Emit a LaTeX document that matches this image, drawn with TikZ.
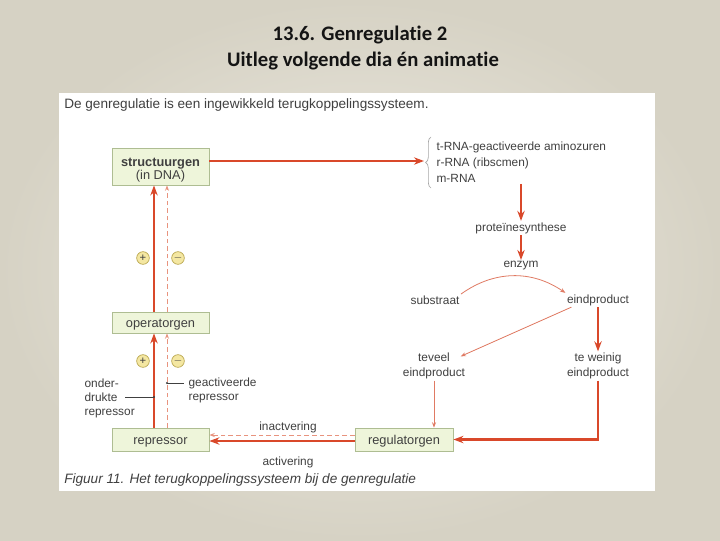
\documentclass[tikz,border=0pt]{standalone}
\usepackage{fontspec}
\setmainfont{Liberation Sans}
\newfontfamily\titlefont[Ligatures=NoCommon]{Carlito}
\usetikzlibrary{arrows.meta,calc,decorations.pathreplacing}
\definecolor{bgin}{HTML}{EEEBE3}
\definecolor{bgout}{HTML}{D6D2C4}
\definecolor{redthick}{HTML}{D9482A}
\definecolor{redthin}{HTML}{E07A63}
\definecolor{reddash}{HTML}{E8937E}
\definecolor{boxfill}{HTML}{EEF5DA}
\definecolor{boxline}{HTML}{AEBD92}
\definecolor{txt}{HTML}{404040}
\definecolor{signfill}{HTML}{F4E7A2}
\definecolor{signline}{HTML}{B9A64E}
\tikzset{
  gbox/.style={draw=boxline, fill=boxfill, line width=0.6pt, text=txt, font=\fontsize{9.6}{9.4}\selectfont, align=center, inner sep=0pt},
  onel/.style={text height=9pt, text depth=1.2pt},
  lbl/.style={text=txt, font=\fontsize{8.9}{11}\selectfont, inner sep=1pt},
  thickarr/.style={draw=redthick, line width=1.6pt, -{Stealth[length=7.5pt,width=5.5pt]}},
  thinarr/.style={draw=redthin, line width=0.6pt, -{Stealth[length=4pt,width=3pt]}},
  dasharr/.style={draw=reddash, line width=0.7pt, dash pattern=on 3.5pt off 2.2pt, -{Stealth[length=4pt,width=3pt]}},
  sign/.style={circle, draw=signline, fill=signfill, line width=0.5pt, minimum size=9.5pt, inner sep=0pt, text=txt, font=\fontsize{8.5}{8}\selectfont},
  pointer/.style={draw=txt, line width=0.4pt},
  ttl/.style={font=\titlefont\bfseries\fontsize{15.5}{18}\selectfont, text=black!92},
}
\begin{document}
\begin{tikzpicture}[x=0.75pt,y=-0.75pt]
\useasboundingbox (0,0) rectangle (720,540);
\shade[inner color=bgin, outer color=bgout] (0,0) rectangle (720,540);
\fill[white] (59,93) rectangle (655,491);

% titles
\node[ttl] (t1) at (360,35) {13.6. Genregulatie 2};
\node[ttl] (t2) at (363,61) {Uitleg volgende dia én animatie};

% header and caption
\node[anchor=west, text=txt, font=\fontsize{10.2}{12}\selectfont, inner sep=0pt] (head) at (64,105) {De genregulatie is een ingewikkeld terugkoppelingssysteem.};
\node[anchor=west, text=txt, font=\fontsize{10.2}{12}\itshape\selectfont, inner sep=0pt] (cap) at (64,480) {Figuur 11. Het terugkoppelingssysteem bij de genregulatie};

% boxes
\node[gbox, minimum width=72.75pt, minimum height=27.75pt] (struct) at (160.5,166.5) {\rule{0pt}{11.5pt}\textbf{structuurgen}\\(in DNA)};
\node[gbox, onel, minimum width=72.75pt, minimum height=15.75pt] (oper) at (160.5,322.5) {operatorgen};
\node[gbox, onel, minimum width=72.75pt, minimum height=17.25pt] (rep) at (160.5,439.5) {repressor};
\node[gbox, onel, minimum width=73.5pt, minimum height=17.25pt] (reg) at (404,439.5) {regulatorgen};

% right-hand texts
\node[lbl, anchor=west, align=left, font=\fontsize{8.9}{12}\selectfont] (rna) at (435,162) {t-RNA-geactiveerde aminozuren\\r-RNA (ribscmen)\\m-RNA};
\node[lbl] (prot) at (521,228) {proteïnesynthese};
\node[lbl] (enz) at (521,266) {enzym};
\node[lbl] (subs) at (435,300) {substraat};
\node[lbl] (eind) at (598,300) {eindproduct};
\node[lbl, align=center, font=\fontsize{8.9}{11.25}\selectfont] (teveel) at (434,366) {teveel\\eindproduct};
\node[lbl, align=center, font=\fontsize{8.9}{11.25}\selectfont] (weinig) at (598,366) {te weinig\\eindproduct};

% left labels
\node[lbl, anchor=west, align=left, font=\fontsize{8.9}{10.5}\selectfont] (onder) at (83,398) {onder-\\drukte\\repressor};
\node[lbl, anchor=west, align=left, font=\fontsize{8.9}{10.5}\selectfont] (geact) at (187,390) {geactiveerde\\repressor};
\node[lbl] (inact) at (288,427) {inactvering};
\node[lbl] (act) at (288,462) {activering};

% signs
\node[sign] (p1) at (143,258) {+};
\node[sign] (m1) at (178,258) {$-$};
\node[sign] (p2) at (143,361) {+};
\node[sign] (m2) at (178,361) {$-$};

% left vertical connectors
\draw[thickarr] ($(rep.north)+(-6.5,0)$) -- ($(oper.south)+(-6.5,0)$);
\draw[thickarr] ($(oper.north)+(-6.5,0)$) -- ($(struct.south)+(-6.5,0)$);
\draw[dasharr] ($(rep.north)+(6.5,0)$) -- ($(oper.south)+(6.5,0)$);
\draw[dasharr] ($(oper.north)+(6.5,0)$) -- ($(struct.south)+(6.5,0)$);

% pointer lines
\coordinate (dot1) at (154,397);
\coordinate (dot2) at (167,383);
\draw[pointer] (125,397) -- (dot1);
\fill[txt] (dot1) circle (1.1);
\draw[pointer] (dot2) -- (184,383);
\fill[txt] (dot2) circle (1.1);

% structuurgen -> list
\coordinate (bracetip) at (424,161);
\draw[thickarr] (struct.east |- bracetip) -- (bracetip);
\draw[draw=gray!70, line width=0.5pt, decorate, decoration={brace, amplitude=4, mirror}] (431,137) -- (431,188);

% protein chain
\draw[thickarr, line width=1.2pt] (prot.north |- rna.south) -- (prot.north);
\draw[thickarr, line width=1.2pt] (prot.south) -- (enz.north);
\draw[thinarr] (subs.north east) to[bend left=35] (eind.north west);
\draw[thinarr] ($(eind.south west)+(6,0)$) -- ($(teveel.north east)+(-6,5)$);
\draw[thickarr] (eind.south) -- (weinig.north);
\draw[thinarr] (teveel.south) -- (teveel.south |- reg.north);
\draw[thickarr] (weinig.south) |- (reg.east);

% regulatorgen -> repressor
\draw[dasharr] ($(reg.west)+(0,-4.5)$) -- ($(rep.east)+(0,-4.5)$);
\draw[thickarr] ($(reg.west)+(0,1.5)$) -- ($(rep.east)+(0,1.5)$);
\end{tikzpicture}
\end{document}
